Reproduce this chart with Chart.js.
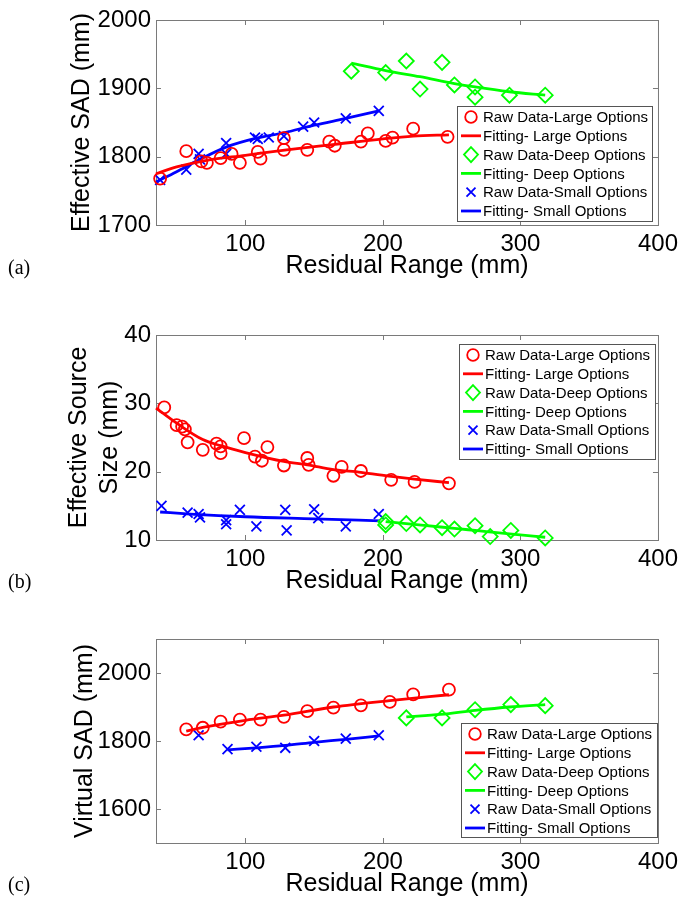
<!DOCTYPE html>
<html>
<head>
<meta charset="utf-8">
<script src="https://cdn.jsdelivr.net/npm/chart.js@4.4.1/dist/chart.umd.min.js"></script>
<style>
  body { margin: 0; background: #fff; width: 683px; height: 899px; position: relative; overflow: hidden; }
  .panel { position: absolute; left: 0; }
  .tag { position: absolute; left: 8px; font: 20px "Liberation Serif", "Times New Roman", serif; color: #000; line-height: 20px; }
</style>
</head>
<body>
<div class="panel" style="top:0"><canvas id="chartA" width="683" height="300"></canvas></div>
<div class="panel" style="top:310px"><canvas id="chartB" width="683" height="300"></canvas></div>
<div class="panel" style="top:615px"><canvas id="chartC" width="683" height="284"></canvas></div>
<div class="tag" style="top:257px">(a)</div>
<div class="tag" style="top:571px">(b)</div>
<div class="tag" style="top:874px">(c)</div>
<script>
const xTicks = [100, 200, 300, 400];
const legendNames = ["Raw Data-Large Options", "Fitting- Large Options", "Raw Data-Deep Options",
                     "Fitting- Deep Options", "Raw Data-Small Options", "Fitting- Small Options"];

// (a) effective SAD
const aLargeX = [38, 57, 68, 72, 82, 90, 96, 109, 111, 128, 128, 145, 161, 165, 184, 189, 202, 207, 222, 247];
const aLargeY = [1768, 1808, 1793, 1791, 1798, 1804, 1791, 1807, 1797, 1827, 1810, 1810, 1822, 1816, 1822, 1834, 1823, 1828, 1841, 1829];
const aLargeFitX = [35, 50, 70, 100, 130, 165, 200, 222, 248];
const aLargeFitY = [1775, 1785, 1794, 1802, 1810, 1818, 1826, 1830, 1832];
const aDeepX = [177, 202, 217, 227, 243, 252, 267, 267, 292, 318];
const aDeepY = [1925, 1923, 1940, 1899, 1938, 1905, 1902, 1887, 1890, 1890];
const aDeepFitX = [177, 202, 227, 252, 267, 292, 318];
const aDeepFitY = [1937, 1926, 1917, 1907, 1902, 1895, 1890];
const aSmallX = [38, 57, 66, 67, 86, 86, 107, 109, 117, 128, 142, 150, 173, 197];
const aSmallY = [1766, 1781, 1804, 1796, 1820, 1804, 1828, 1826, 1828, 1830, 1844, 1850, 1856, 1867];
const aSmallFitX = [35, 50, 66, 86, 108, 128, 150, 173, 197];
const aSmallFitY = [1763, 1778, 1795, 1814, 1827, 1835, 1846, 1856, 1867];
const aYTicks = [1700, 1800, 1900, 2000];

// (b) effective source size
const bLargeX = [41, 50, 54, 56, 58, 69, 79, 82, 82, 99, 107, 112, 116, 128, 145, 146, 164, 170, 184, 206, 223, 248];
const bLargeY = [29.4, 26.8, 26.6, 26.2, 24.3, 23.2, 24.1, 23.7, 22.7, 24.9, 22.2, 21.6, 23.6, 20.9, 22.0, 21.0, 19.4, 20.7, 20.1, 18.8, 18.5, 18.3];
const bLargeFitX = [35, 50, 69, 82, 100, 128, 145, 164, 184, 206, 223, 248];
const bLargeFitY = [29.3, 27.1, 24.7, 23.8, 22.8, 21.5, 21.0, 20.3, 19.9, 19.3, 18.9, 18.4];
const bDeepX = [202, 202, 217, 227, 243, 252, 267, 278, 293, 318];
const bDeepY = [12.7, 12.2, 12.4, 12.2, 11.8, 11.6, 12.1, 10.5, 11.4, 10.3];
const bDeepFitX = [202, 230, 252, 267, 292, 318];
const bDeepFitY = [12.7, 12.15, 11.7, 11.4, 10.9, 10.4];
const bSmallX = [39, 58, 66, 67, 86, 86, 96, 108, 129, 130, 150, 153, 173, 197];
const bSmallY = [15.0, 14.0, 13.8, 13.3, 12.9, 12.3, 14.4, 12.0, 14.4, 11.4, 14.5, 13.2, 12.0, 13.8];
const bSmallFitX = [38, 60, 100, 150, 198];
const bSmallFitY = [14.1, 13.8, 13.4, 13.1, 12.8];
const bYTicks = [10, 20, 30, 40];

// (c) virtual SAD
const cLargeX = [57, 69, 82, 96, 111, 128, 145, 164, 184, 205, 222, 248];
const cLargeY = [1834, 1839, 1857, 1863, 1863, 1871, 1888, 1898, 1905, 1915, 1937, 1951];
const cLargeFitX = [57, 69, 100, 128, 164, 205, 248];
const cLargeFitY = [1829, 1840, 1861, 1876, 1900, 1919, 1936];
const cDeepX = [217, 243, 267, 293, 318];
const cDeepY = [1868, 1868, 1892, 1907, 1904];
const cDeepFitX = [217, 242, 267, 292, 318];
const cDeepFitY = [1871, 1878, 1890, 1900, 1907];
const cSmallX = [66, 87, 108, 129, 150, 173, 197];
const cSmallY = [1817, 1776, 1783, 1780, 1800, 1807, 1817];
const cSmallFitX = [87, 108, 129, 150, 173, 197];
const cSmallFitY = [1774, 1780, 1787, 1796, 1805, 1815];
const cYTicks = [1600, 1800, 2000];

const RED = "rgb(255,0,0)", GREEN = "rgb(0,255,0)", BLUE = "rgb(0,0,255)";
Chart.defaults.font.family = "'Liberation Sans', Arial, sans-serif";
Chart.defaults.color = "#000";

function pts(xs, ys) {
  return xs.map((x, i) => ({ x: x, y: ys[i] }));
}

function rawSet(label, xs, ys, color, style, radius) {
  return { label: label, data: pts(xs, ys), showLine: false, pointStyle: style,
           pointRadius: radius, pointHoverRadius: radius, borderColor: color,
           backgroundColor: "rgba(0,0,0,0)", pointBorderWidth: 1.8, clip: false };
}
function fitSet(label, xs, ys, color) {
  return { label: label, data: pts(xs, ys), showLine: true, pointRadius: 0, borderColor: color,
           borderWidth: 2.8, cubicInterpolationMode: "monotone", fill: false, clip: false };
}

// axis box with inward ticks on all four sides (matlab style)
const framePlugin = {
  id: "frame",
  beforeDatasetsDraw(chart) {
    const { ctx, chartArea: a, scales } = chart;
    ctx.save();
    ctx.strokeStyle = "#7a7a7a";
    ctx.lineWidth = 1;
    ctx.strokeRect(a.left + 0.5, a.top + 0.5, a.right - a.left, a.bottom - a.top);
    ctx.beginPath();
    scales.x.ticks.forEach(t => {
      const px = Math.round(scales.x.getPixelForValue(t.value)) + 0.5;
      ctx.moveTo(px, a.bottom); ctx.lineTo(px, a.bottom - 5);
      ctx.moveTo(px, a.top); ctx.lineTo(px, a.top + 5);
    });
    scales.y.ticks.forEach(t => {
      const py = Math.round(scales.y.getPixelForValue(t.value)) + 0.5;
      ctx.moveTo(a.left, py); ctx.lineTo(a.left + 5, py);
      ctx.moveTo(a.right, py); ctx.lineTo(a.right - 5, py);
    });
    ctx.stroke();
    ctx.restore();
  }
};

function drawMarker(ctx, style, x, y, color) {
  ctx.strokeStyle = color;
  ctx.lineWidth = 1.8;
  ctx.beginPath();
  if (style === "circle") {
    ctx.arc(x, y, 5.8, 0, Math.PI * 2);
  } else if (style === "rectRot") {
    ctx.moveTo(x, y - 7.5); ctx.lineTo(x + 7, y); ctx.lineTo(x, y + 7.5); ctx.lineTo(x - 7, y); ctx.closePath();
  } else {
    ctx.moveTo(x - 4.5, y - 4.5); ctx.lineTo(x + 4.5, y + 4.5);
    ctx.moveTo(x - 4.5, y + 4.5); ctx.lineTo(x + 4.5, y - 4.5);
  }
  ctx.stroke();
}

const legendPlugin = {
  id: "boxLegend",
  afterDatasetsDraw(chart, args, opts) {
    const ctx = chart.ctx;
    const { left, top, width, height } = opts;
    ctx.save();
    ctx.fillStyle = "#fff";
    ctx.fillRect(left, top, width, height);
    ctx.strokeStyle = "#555";
    ctx.lineWidth = 1;
    ctx.strokeRect(left + 0.5, top + 0.5, width, height);
    ctx.font = "15px 'Liberation Sans', Arial, sans-serif";
    ctx.textBaseline = "middle";
    chart.data.datasets.forEach((ds, i) => {
      const y = top + 11 + i * 18.8;
      if (ds.showLine) {
        ctx.strokeStyle = ds.borderColor;
        ctx.lineWidth = 2.8;
        ctx.beginPath();
        ctx.moveTo(left + 4, y); ctx.lineTo(left + 24, y);
        ctx.stroke();
      } else {
        drawMarker(ctx, ds.pointStyle, left + 14, y, ds.borderColor);
      }
      ctx.fillStyle = "#000";
      ctx.fillText(ds.label, left + 26, y + 1);
    });
    ctx.restore();
  }
};

function makePanel(id, p) {
  const datasets = [
    rawSet(legendNames[0], p.largeX, p.largeY, RED, "circle", 6),
    fitSet(legendNames[1], p.largeFitX, p.largeFitY, RED),
    rawSet(legendNames[2], p.deepX, p.deepY, GREEN, "rectRot", 7.5),
    fitSet(legendNames[3], p.deepFitX, p.deepFitY, GREEN),
    rawSet(legendNames[4], p.smallX, p.smallY, BLUE, "crossRot", 7),
    fitSet(legendNames[5], p.smallFitX, p.smallFitY, BLUE)
  ];
  return new Chart(document.getElementById(id), {
    type: "scatter",
    data: { datasets: datasets },
    options: {
      responsive: false,
      animation: false,
      events: [],
      layout: { padding: { left: 0, right: 24, top: p.padTop, bottom: 0 } },
      plugins: { legend: { display: false }, tooltip: { enabled: false }, boxLegend: p.legend },
      scales: {
        x: {
          type: "linear", min: 35, max: 400,
          grid: { display: false, drawTicks: false }, border: { display: false },
          afterBuildTicks: s => { s.ticks = xTicks.map(v => ({ value: v })); },
          afterFit: s => { s.height = p.xHeight; },
          ticks: { font: { size: 24 }, padding: 5, maxRotation: 0, callback: v => String(v) },
          title: { display: true, text: "Residual Range (mm)", font: { size: 25 }, padding: { top: 0, bottom: p.xTitlePad } }
        },
        y: {
          type: "linear", min: p.yMin, max: p.yMax,
          grid: { display: false, drawTicks: false }, border: { display: false },
          afterBuildTicks: s => { s.ticks = p.yTicks.map(v => ({ value: v })); },
          afterFit: s => { s.width = 156; },
          ticks: { font: { size: 24 }, padding: 5, callback: v => String(v) },
          title: { display: true, text: p.yTitle, font: { size: 25, lineHeight: 1.25 }, padding: { top: p.yTitlePad, bottom: 0 } }
        }
      }
    },
    plugins: [framePlugin, legendPlugin]
  });
}

makePanel("chartA", {
  largeX: aLargeX, largeY: aLargeY, largeFitX: aLargeFitX, largeFitY: aLargeFitY,
  deepX: aDeepX, deepY: aDeepY, deepFitX: aDeepFitX, deepFitY: aDeepFitY,
  smallX: aSmallX, smallY: aSmallY, smallFitX: aSmallFitX, smallFitY: aSmallFitY,
  yMin: 1700, yMax: 2000, yTicks: aYTicks, yTitle: "Effective SAD (mm)",
  padTop: 20, xHeight: 75, xTitlePad: 19, yTitlePad: 66,
  legend: { left: 457, top: 106, width: 195, height: 115 }
});
makePanel("chartB", {
  largeX: bLargeX, largeY: bLargeY, largeFitX: bLargeFitX, largeFitY: bLargeFitY,
  deepX: bDeepX, deepY: bDeepY, deepFitX: bDeepFitX, deepFitY: bDeepFitY,
  smallX: bSmallX, smallY: bSmallY, smallFitX: bSmallFitX, smallFitY: bSmallFitY,
  yMin: 10, yMax: 40, yTicks: bYTicks, yTitle: ["Effective Source", "Size (mm)"],
  padTop: 25, xHeight: 70, xTitlePad: 14, yTitlePad: 63,
  legend: { left: 459, top: 34, width: 196, height: 115 }
});
makePanel("chartC", {
  largeX: cLargeX, largeY: cLargeY, largeFitX: cLargeFitX, largeFitY: cLargeFitY,
  deepX: cDeepX, deepY: cDeepY, deepFitX: cDeepFitX, deepFitY: cDeepFitY,
  smallX: cSmallX, smallY: cSmallY, smallFitX: cSmallFitX, smallFitY: cSmallFitY,
  yMin: 1500, yMax: 2100, yTicks: cYTicks, yTitle: "Virtual SAD (mm)",
  padTop: 24, xHeight: 56, xTitlePad: 0, yTitlePad: 69,
  legend: { left: 461, top: 108, width: 196, height: 114 }
});
</script>
</body>
</html>
